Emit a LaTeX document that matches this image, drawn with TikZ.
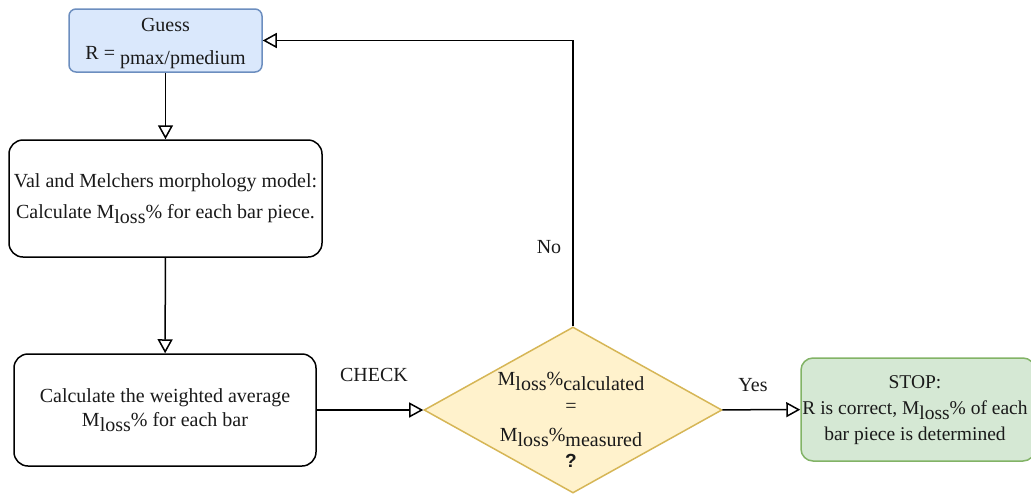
\documentclass[tikz,border=0pt]{standalone}
\usepackage{fontspec}
\setmainfont{Liberation Serif}
\setsansfont{Liberation Sans}
\usetikzlibrary{shapes.geometric,arrows.meta}
\definecolor{bluefill}{HTML}{DAE8FC}
\definecolor{bluedraw}{HTML}{6C8EBF}
\definecolor{yelfill}{HTML}{FFF2CC}
\definecolor{yeldraw}{HTML}{D6B656}
\definecolor{grnfill}{HTML}{D5E8D4}
\definecolor{grndraw}{HTML}{82B366}
\definecolor{txt}{HTML}{1A1A1A}
\newcommand\lowr[1]{\raisebox{-5pt}{#1}}
\newcommand\Mls{M\lowr{loss}\%}
\tikzset{
  every node/.style={font=\fontsize{20}{24}\selectfont, text=txt},
  box/.style={draw=black, line width=1.5pt, fill=white, rounded corners=14pt, align=center, inner sep=0pt},
  arr/.style={line width=1.5pt, -{Triangle[open, length=14pt, width=15pt]}},
  lbl/.style={inner sep=0pt}
}
\begin{document}
\begin{tikzpicture}[x=1pt,y=-1pt]
\useasboundingbox (0,0) rectangle (1031,496);
\node[box, draw=bluedraw, fill=bluefill, rounded corners=7pt, minimum width=193pt, minimum height=63pt] (guess) at (165.5,40.5) {};
\node[align=center, inner sep=0pt] (guesstxt) at (165.5,44) {Guess\\[4pt] R = \lowr{pmax/pmedium}};
\node[box, minimum width=313pt, minimum height=117pt] (model) at (165.5,198.5) {Val and Melchers morphology model:\\[7pt] Calculate \Mls{} for each bar piece.};
\node[box, minimum width=302pt, minimum height=112pt] (avg) at (165,410) {Calculate the weighted average\\[0pt] \Mls{} for each bar};
\node[diamond, draw=yeldraw, fill=yelfill, line width=1.5pt, minimum width=298pt, minimum height=166pt, inner sep=0pt] (check) at (573,410) {};
\node[align=center, inner sep=0pt] (checktxt) at (571,420) {\Mls\lowr{calculated}\\[3pt] =\\[5pt] \Mls\lowr{measured}\\[2pt] {\sffamily\bfseries\fontsize{19}{22}\selectfont ?}};
\node[box, draw=grndraw, fill=grnfill, rounded corners=12pt, minimum width=234pt, minimum height=103pt] (stop) at (918,409.5) {};
\node[align=center, inner sep=0pt, font=\fontsize{19.5}{24}\selectfont] (stoptxt) at (915,410) {STOP:\\[2pt] R is correct, \Mls{} of each\\[2pt] bar piece is determined};
\draw[arr] (guess) -- (model);
\draw[arr] (model) -- (avg);
\draw[arr] (avg) -- (check);
\draw[arr] (check.north) |- (guess.east);
\draw[arr] (check) -- (stop);
\node[lbl] (no) at (549,247) {No};
\node[lbl] (chk) at (374,375) {CHECK};
\node[lbl] (yes) at (753,385) {Yes};
\end{tikzpicture}
\end{document}
